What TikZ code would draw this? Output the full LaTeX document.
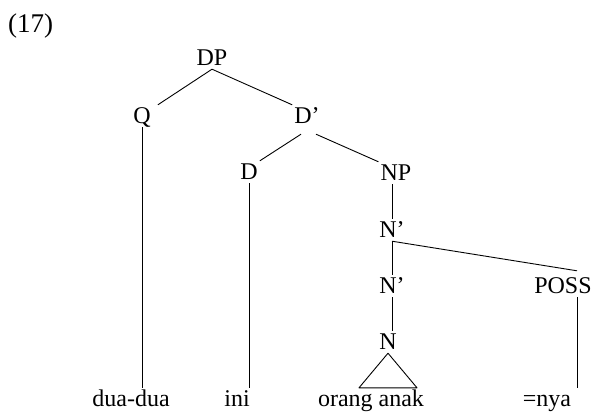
\documentclass[tikz,border=0pt]{standalone}
\usepackage{fontspec}
\setmainfont{Liberation Serif}
\usetikzlibrary{calc}
\begin{document}
\begin{tikzpicture}[x=1pt,y=-1pt,
  lab/.style={anchor=base,inner sep=2pt,text height=16pt,text depth=2pt,font=\fontsize{24}{28}\selectfont},
  br/.style={line width=0.9pt,line join=round}]
\useasboundingbox[fill=white] (0,0) rectangle (593,412);
\node[anchor=base west,inner sep=0pt,font=\fontsize{27}{30}\selectfont] (num) at (8,33) {(17)};
\node[lab] (DP) at (212,65) {DP};
\node[lab] (Q) at (142,123) {Q};
\node[lab] (Dbar) at (307,123) {D’};
\node[lab] (D) at (249,179) {D};
\node[lab] (NP) at (396,180) {NP};
\node[lab] (N1) at (392,237) {N’};
\node[lab] (N2) at (392,293) {N’};
\node[lab] (N) at (388,349) {N};
\node[lab] (POSS) at (563,293) {POSS};
\node[lab] (dua) at (131,406) {dua-dua};
\node[lab] (ini) at (237,406) {ini};
\node[lab] (orang) at (371,406) {orang anak};
\node[lab] (nya) at (547,406) {=nya};
\draw[br] (DP.south) -- ([xshift=5pt]Q.north east);
\draw[br] (DP.south) -- (Dbar.north west);
\coordinate (db) at ([yshift=-7pt]Dbar.south);
\draw[br] ([xshift=-6pt]db) -- (D.north east);
\draw[br] ([xshift=9pt]db) -- (NP.north west);
\draw[br] (Q.south) -- (Q.south |- dua.north);
\draw[br] (D.south) -- (D.south |- ini.north);
\coordinate (spine) at (392,0);
\draw[br] (NP.south -| spine) -- (N1.north -| spine);
\draw[br] (N1.south -| spine) -- (N2.north -| spine);
\draw[br] (N2.south -| spine) -- (N.north -| spine);
\draw[br] (N1.south -| spine) -- ([xshift=14pt,yshift=4pt]POSS.north);
\coordinate (pq) at ([xshift=14pt]POSS.south);
\draw[br] (pq) -- (pq |- nya.north);
\draw[br] (N.south) -- ($(N.south |- orang.north)+(-29pt,0)$) -- ($(N.south |- orang.north)+(29pt,0)$) -- cycle;
\end{tikzpicture}
\end{document}
